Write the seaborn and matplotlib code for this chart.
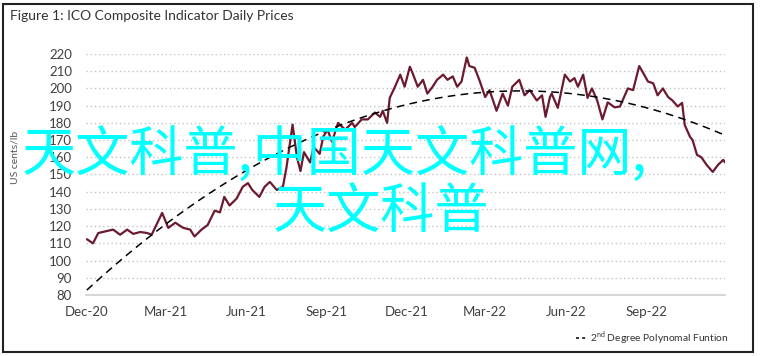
import pandas as pd
import numpy as np
import matplotlib
matplotlib.use("Agg")
import matplotlib.pyplot as plt
import matplotlib.dates as mdates
import seaborn as sns
from matplotlib.patches import Rectangle
from matplotlib.lines import Line2D

# ICO composite indicator (US cents/lb)
price_dates = [
    "2020-12-01", "2020-12-08", "2020-12-14", "2020-12-31",
    "2021-01-08", "2021-01-16", "2021-01-23", "2021-01-31",
    "2021-02-08", "2021-02-13", "2021-02-25",
    "2021-03-04", "2021-03-12", "2021-03-21", "2021-03-29",
    "2021-04-03", "2021-04-11", "2021-04-18", "2021-04-26",
    "2021-05-02", "2021-05-07", "2021-05-13", "2021-05-21", "2021-05-28",
    "2021-06-03", "2021-06-08", "2021-06-16", "2021-06-22", "2021-06-28",
    "2021-07-06", "2021-07-13", "2021-07-17", "2021-07-24", "2021-07-29",
    "2021-08-02", "2021-08-06", "2021-08-13", "2021-08-17", "2021-08-24", "2021-08-28",
    "2021-09-02", "2021-09-07", "2021-09-14", "2021-09-22", "2021-09-30",
    "2021-10-03", "2021-10-11", "2021-10-18", "2021-10-26",
    "2021-11-01", "2021-11-04", "2021-11-09", "2021-11-12", "2021-11-18", "2021-11-24", "2021-11-29",
    "2021-12-05", "2021-12-08", "2021-12-14", "2021-12-20", "2021-12-25", "2021-12-31",
    "2022-01-05", "2022-01-12", "2022-01-17", "2022-01-23", "2022-01-28",
    "2022-02-02", "2022-02-08", "2022-02-11", "2022-02-17", "2022-02-23",
    "2022-03-01", "2022-03-06", "2022-03-14", "2022-03-21", "2022-03-27",
    "2022-04-01", "2022-04-09", "2022-04-15", "2022-04-21", "2022-04-29",
    "2022-05-05", "2022-05-09", "2022-05-14", "2022-05-16", "2022-05-23", "2022-05-31",
    "2022-06-06", "2022-06-11", "2022-06-15", "2022-06-21", "2022-06-26",
    "2022-07-01", "2022-07-07", "2022-07-13", "2022-07-19", "2022-07-27",
    "2022-08-02", "2022-08-05", "2022-08-11", "2022-08-17", "2022-08-24", "2022-08-28",
    "2022-09-03", "2022-09-09", "2022-09-14", "2022-09-20", "2022-09-26",
    "2022-10-01", "2022-10-07", "2022-10-12", "2022-10-15", "2022-10-21", "2022-10-24", "2022-10-29",
    "2022-11-03", "2022-11-09", "2022-11-16", "2022-11-22", "2022-11-28", "2022-11-30",
]
prices = [
    112.4, 110, 116, 118,
    115, 118, 115.5, 116.6,
    116, 115, 127.7,
    119, 122, 119, 118,
    114, 118, 120.7, 129,
    128, 137, 132, 136, 142.8,
    145, 141, 137, 142.8, 145.7,
    141, 143, 154, 179, 160,
    152, 163, 157, 166, 162, 172,
    176, 169, 180, 176, 180,
    177.6, 182, 182, 186,
    183.5, 187, 180, 194.5, 201, 208, 201,
    212.6, 209, 201, 205, 197, 201,
    205, 208, 205, 207, 201,
    204, 218, 213, 212, 204,
    195, 199, 187, 197, 190,
    201, 205, 196, 199, 193,
    196, 183.5, 195, 197, 188.7, 208,
    204, 206, 201, 208, 194.5,
    200, 193, 182, 191.9, 189,
    189.5, 193, 200, 199, 213, 209.5,
    204, 203, 196, 200, 195,
    193, 189.5, 191.6, 178.8, 171.9, 170, 161.4,
    160, 155.6, 151.5, 155.6, 158.5, 157,
]

y_ticks = [80, 90, 100, 110, 120, 130, 140, 150, 160, 170, 180, 190, 200, 210, 220]
tick_dates = ["2020-12-01", "2021-03-01", "2021-06-01", "2021-09-01",
              "2021-12-01", "2022-03-01", "2022-06-01", "2022-09-01"]
tick_labels = ["Dec-20", "Mar-21", "Jun-21", "Sep-21", "Dec-21", "Mar-22", "Jun-22", "Sep-22"]

title = "Figure 1: ICO Composite Indicator Daily Prices"
ylabel = "US cents/lb"
trend_label = r"2$^{\rm nd}$ Degree Polynomal Funtion"
watermark_1 = "天文科普,中国天文科普网,"
watermark_2 = "天文科普"

sns.set_style("white")
plt.rcParams["font.family"] = ["Lato", "DejaVu Sans"]
plt.rcParams["mathtext.fontset"] = "custom"
plt.rcParams["mathtext.rm"] = "Lato"

W, H = 762, 356
fig = plt.figure(figsize=(W / 100, H / 100), dpi=100)
ax = fig.add_axes([86 / W, 1 - 295 / H, (725 - 86) / W, (295 - 54) / H])

df = pd.DataFrame({"date": pd.to_datetime(price_dates), "price": prices})
df["x"] = mdates.date2num(df["date"])

# serie diaria
sns.lineplot(data=df, x="x", y="price", color="#6b1a30", lw=1.6, ax=ax)
# tendencia polinomica de grado 2
sns.regplot(data=df, x="x", y="price", order=2, scatter=False, ci=None,
            color="black", line_kws=dict(ls=(0, (5, 3.5)), lw=1.1), ax=ax)

ax.set_xlim(mdates.date2num(pd.Timestamp("2020-11-30")), mdates.date2num(pd.Timestamp("2022-11-30")))
ax.set_ylim(80, 220)
ax.set_yticks(y_ticks)
ax.set_xticks(mdates.date2num(pd.to_datetime(tick_dates)))
ax.set_xticklabels(tick_labels)
ax.set_xlabel("")
ax.set_ylabel("")

ax.yaxis.grid(True, ls=(0, (1, 2)), color="#c4c4c4", lw=1.0)
ax.set_axisbelow(True)
for s in ["top", "left", "right"]:
    ax.spines[s].set_visible(False)
ax.spines["bottom"].set_color("#d0d0d0")
ax.spines["bottom"].set_linewidth(1.2)
ax.tick_params(axis="both", length=0, labelsize=9.5, colors="#404040")
ax.tick_params(axis="y", pad=10)
ax.tick_params(axis="x", pad=8)

fig.text(10 / W, 1 - 16 / H, title, fontsize=10, color="#333333", va="center", ha="left")
fig.text(15 / W, 1 - 157 / H, ylabel, rotation=90, fontsize=7.5, color="#555555",
         va="center", ha="center")

h = Line2D([], [], color="black", ls=(0, (2, 2)), lw=1.1)
leg = fig.legend(handles=[h], labels=[trend_label], loc="center right",
                 bbox_to_anchor=(729 / W, 1 - 338 / H), frameon=False, fontsize=7.4,
                 handlelength=1.0, handletextpad=0.4, borderaxespad=0, borderpad=0)
for t in leg.get_texts():
    t.set_color("#333333")

# marca de agua
fig.text(22 / W, 1 - 156 / H, watermark_1, fontsize=39, color="#00ffff",
         family=["Noto Sans CJK SC", "DejaVu Sans"], va="center", ha="left")
fig.text(273 / W, 1 - 213 / H, watermark_2, fontsize=39, color="#00ffff",
         family=["Noto Sans CJK SC", "DejaVu Sans"], va="center", ha="left")

fig.add_artist(Rectangle((3 / W, 4 / H), 750 / W, 348 / H, transform=fig.transFigure,
                         fill=False, ec="#222222", lw=1.5))

fig.savefig("out.png", dpi=100)
